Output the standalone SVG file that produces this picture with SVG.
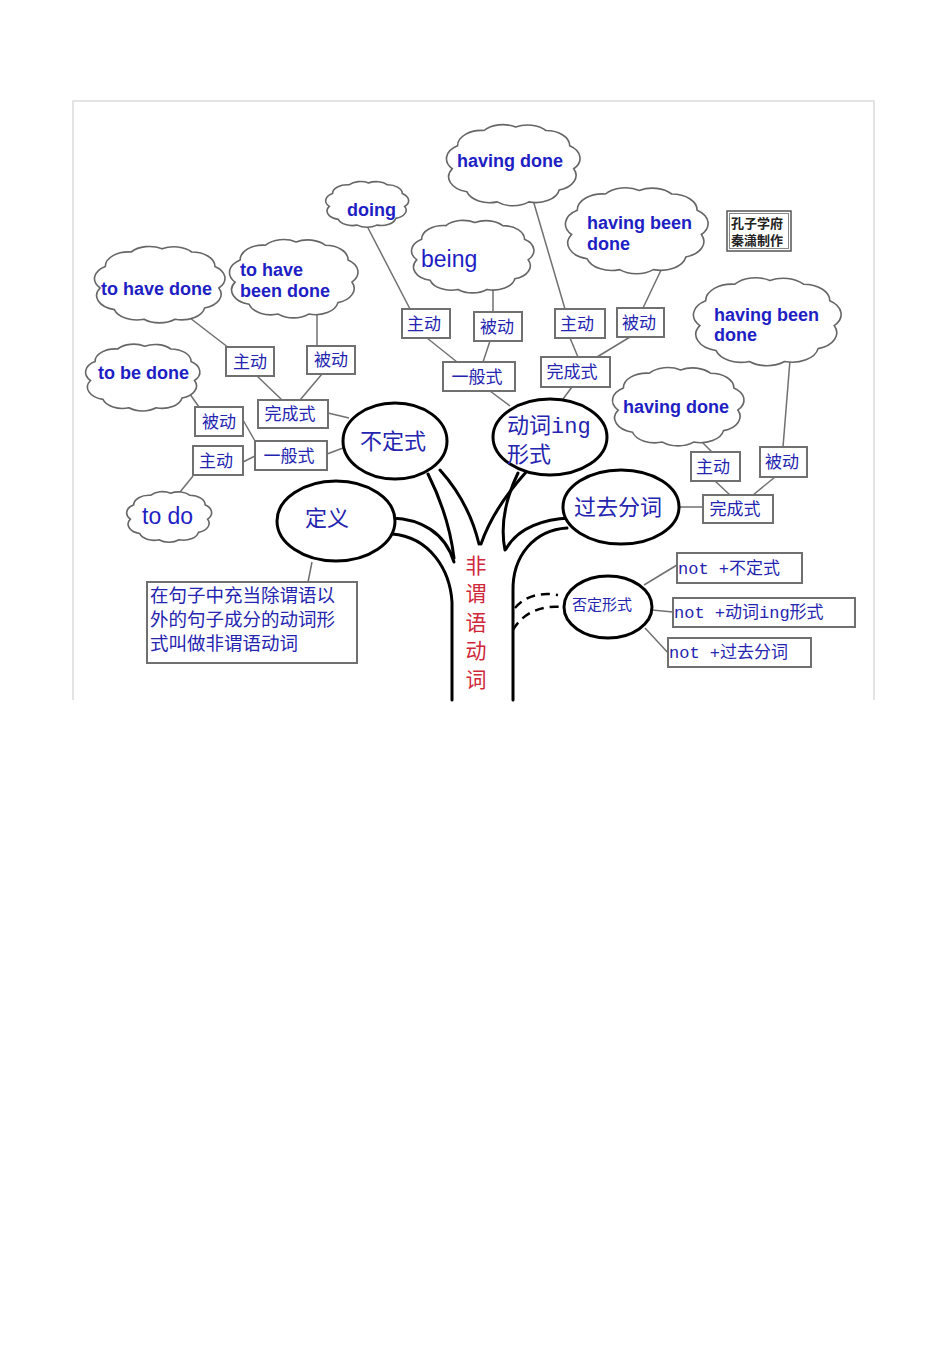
<svg xmlns="http://www.w3.org/2000/svg" xmlns:xlink="http://www.w3.org/1999/xlink" width="950" height="1345" viewBox="0 0 950 1345">
<style>
.cloud{fill:#fff;stroke:#666;stroke-width:1.6}
.en{font-family:"Liberation Sans",Arial,sans-serif;font-weight:bold;font-size:18px;fill:#1e1ec4}
.enl{font-family:"Liberation Sans",Arial,sans-serif;font-size:23px;fill:#1e1ec4}
.box{fill:#fff;stroke:#707070;stroke-width:2}
.bt{font-family:"Noto Sans CJK SC",sans-serif;font-size:17px;fill:#2424b0;text-anchor:middle}
.ell{fill:#fff;stroke:#000;stroke-width:3}
.et{font-family:"Liberation Mono","Noto Sans CJK SC",monospace;font-size:22px;fill:#2424b0}
.nt{font-family:"Liberation Mono","Noto Sans CJK SC",monospace;font-size:17px;fill:#2424b0}
.dt{font-family:"Noto Sans CJK SC",sans-serif;font-size:18.5px;fill:#2424b0}
.ln{stroke:#707070;stroke-width:1.5;fill:none}
.br{stroke:#000;stroke-width:3;fill:none;stroke-linecap:round}
.red{font-family:"Noto Sans CJK SC",sans-serif;font-size:21px;fill:#d0283a;text-anchor:middle}
.cr{font-family:"Noto Sans CJK SC",sans-serif;font-size:13px;font-weight:bold;fill:#222}
</style>
<defs>
<path id="cl" vector-effect="non-scaling-stroke" d="M4,55 A18,18 0 0 1 8,28 A18,18 0 0 1 28,10 A18,18 0 0 1 52,6 A18,18 0 0 1 75,10 A18,18 0 0 1 93,28 A18,18 0 0 1 96,55 A18,18 0 0 1 85,80 A18,18 0 0 1 62,94 A18,18 0 0 1 38,94 A18,18 0 0 1 15,82 A18,18 0 0 1 4,55 Z"/>
</defs>
<rect width="950" height="1345" fill="#fff"/>
<path d="M73,700 V101 H874 V700" fill="none" stroke="#dcdcdc" stroke-width="1.5"/>

<g id="connectors">
<g id="tree">
<path class="br" d="M452,700 V602 C450,570 430,537 392,534"/>
<path class="br" d="M392,518 C420,519 445,532 454,562"/>
<path class="br" d="M428,474 C440,498 450,525 454,558"/>
<path class="br" d="M440,470 C458,490 472,515 479,544"/>
<path class="br" d="M527,471 C508,492 490,518 481,544"/>
<path class="br" d="M518,473 C505,500 500,525 505,550"/>
<path class="br" d="M570,518 C545,519 518,527 506,549"/>
<path class="br" d="M513,700 V592 C512,555 535,530 567,528"/>
<path d="M515,608 C525,596 540,592 558,595" fill="none" stroke="#000" stroke-width="2.5" stroke-dasharray="9,6"/>
<path d="M513,630 C522,614 540,605 561,607" fill="none" stroke="#000" stroke-width="2.5" stroke-dasharray="9,6"/>
</g>
<g id="lines">
<line class="ln" x1="190" y1="318" x2="229" y2="348"/>
<line class="ln" x1="317" y1="313" x2="317" y2="346"/>
<line class="ln" x1="257" y1="376" x2="282" y2="400"/>
<line class="ln" x1="322" y1="374" x2="300" y2="400"/>
<line class="ln" x1="328" y1="413" x2="349" y2="418"/>
<line class="ln" x1="327" y1="454" x2="343" y2="448"/>
<line class="ln" x1="187" y1="390" x2="199" y2="407"/>
<line class="ln" x1="243" y1="420" x2="255" y2="441"/>
<line class="ln" x1="243" y1="462" x2="255" y2="456"/>
<line class="ln" x1="193" y1="476" x2="180" y2="492"/>
<line class="ln" x1="367" y1="226" x2="410" y2="309"/>
<line class="ln" x1="493" y1="290" x2="493" y2="312"/>
<line class="ln" x1="427" y1="338" x2="457" y2="362"/>
<line class="ln" x1="490" y1="341" x2="483" y2="362"/>
<line class="ln" x1="490" y1="391" x2="510" y2="406"/>
<line class="ln" x1="533" y1="200" x2="565" y2="309"/>
<line class="ln" x1="570" y1="338" x2="578" y2="357"/>
<line class="ln" x1="630" y1="337" x2="597" y2="357"/>
<line class="ln" x1="662" y1="268" x2="643" y2="308"/>
<line class="ln" x1="572" y1="387" x2="563" y2="399"/>
<line class="ln" x1="790" y1="360" x2="783" y2="447"/>
<line class="ln" x1="700" y1="440" x2="712" y2="452"/>
<line class="ln" x1="715" y1="481" x2="730" y2="495"/>
<line class="ln" x1="775" y1="477" x2="753" y2="495"/>
<line class="ln" x1="679" y1="507" x2="703" y2="507"/>
<line class="ln" x1="312" y1="562" x2="308" y2="582"/>
<line class="ln" x1="644" y1="585" x2="677" y2="565"/>
<line class="ln" x1="652" y1="610" x2="673" y2="612"/>
<line class="ln" x1="645" y1="628" x2="670" y2="655"/>
</g>
</g>

<g id="cloud-to-have-done"><use href="#cl" class="cloud" transform="translate(95,244) scale(1.29,0.8)"/><text class="en" x="101" y="295">to have done</text></g>
<g id="cloud-to-have-been-done"><use href="#cl" class="cloud" transform="translate(230,237) scale(1.27,0.82)"/><text class="en" x="240" y="276">to have</text><text class="en" x="240" y="297">been done</text></g>
<g id="cloud-doing"><use href="#cl" class="cloud" transform="translate(326,180) scale(0.82,0.48)"/><text class="en" x="347" y="216">doing</text></g>
<g id="cloud-being"><use href="#cl" class="cloud" transform="translate(412,218) scale(1.21,0.76)"/><text class="enl" x="421" y="267">being</text></g>
<g id="cloud-having-done-top"><use href="#cl" class="cloud" transform="translate(447,122) scale(1.32,0.85)"/><text class="en" x="457" y="167">having done</text></g>
<g id="cloud-having-been-done-mid"><use href="#cl" class="cloud" transform="translate(566,185) scale(1.41,0.9)"/><text class="en" x="587" y="229">having been</text><text class="en" x="587" y="250">done</text></g>
<g id="cloud-having-been-done-right"><use href="#cl" class="cloud" transform="translate(694,275) scale(1.46,0.92)"/><text class="en" x="714" y="321">having been</text><text class="en" x="714" y="341">done</text></g>
<g id="cloud-having-done-low"><use href="#cl" class="cloud" transform="translate(613,365) scale(1.3,0.82)"/><text class="en" x="623" y="413">having done</text></g>
<g id="cloud-to-be-done"><use href="#cl" class="cloud" transform="translate(86,342) scale(1.13,0.7)"/><text class="en" x="98" y="379">to be done</text></g>
<g id="cloud-to-do"><use href="#cl" class="cloud" transform="translate(127,490) scale(0.84,0.53)"/><text class="enl" x="142" y="524">to do</text></g>

<g id="box-zd1"><rect class="box" x="226" y="347" width="48" height="29"/><text class="bt" x="250" y="368">主动</text></g>
<g id="box-bd1"><rect class="box" x="307" y="346" width="48" height="28"/><text class="bt" x="331" y="366">被动</text></g>
<g id="box-wcs1"><rect class="box" x="258" y="400" width="70" height="28"/><text class="bt" x="290" y="420">完成式</text></g>
<g id="box-bd2"><rect class="box" x="195" y="407" width="48" height="29"/><text class="bt" x="219" y="428">被动</text></g>
<g id="box-ybs1"><rect class="box" x="255" y="441" width="72" height="29"/><text class="bt" x="289" y="462">一般式</text></g>
<g id="box-zd2"><rect class="box" x="193" y="446" width="50" height="29"/><text class="bt" x="216" y="467">主动</text></g>
<g id="box-zd3"><rect class="box" x="402" y="309" width="48" height="29"/><text class="bt" x="424" y="330">主动</text></g>
<g id="box-bd3"><rect class="box" x="474" y="312" width="48" height="29"/><text class="bt" x="497" y="333">被动</text></g>
<g id="box-ybs2"><rect class="box" x="443" y="362" width="72" height="29"/><text class="bt" x="477" y="383">一般式</text></g>
<g id="box-zd4"><rect class="box" x="555" y="309" width="50" height="29"/><text class="bt" x="577" y="330">主动</text></g>
<g id="box-bd4"><rect class="box" x="617" y="308" width="47" height="29"/><text class="bt" x="639" y="329">被动</text></g>
<g id="box-wcs2"><rect class="box" x="541" y="357" width="69" height="30"/><text class="bt" x="572" y="378">完成式</text></g>
<g id="box-zd5"><rect class="box" x="691" y="452" width="49" height="29"/><text class="bt" x="713" y="473">主动</text></g>
<g id="box-bd5"><rect class="box" x="760" y="447" width="47" height="30"/><text class="bt" x="782" y="468">被动</text></g>
<g id="box-wcs3"><rect class="box" x="703" y="495" width="70" height="28"/><text class="bt" x="735" y="515">完成式</text></g>

<g id="ell-budingshi"><ellipse class="ell" cx="395" cy="441" rx="52" ry="38"/><text class="et" x="360" y="449">不定式</text></g>
<g id="ell-ing"><ellipse class="ell" cx="550" cy="437" rx="57" ry="38"/><text class="et" x="507" y="433">动词ing</text><text class="et" x="507" y="462">形式</text></g>
<g id="ell-guoqu"><ellipse class="ell" cx="621" cy="507" rx="58" ry="37"/><text class="et" x="574" y="515">过去分词</text></g>
<g id="ell-dingyi"><ellipse class="ell" cx="336" cy="521" rx="59" ry="40"/><text class="et" x="305" y="526">定义</text></g>
<g id="ell-fouding"><ellipse class="ell" cx="608" cy="607" rx="44" ry="31"/><text class="et" x="572" y="610" style="font-size:15px">否定形式</text></g>

<g id="box-def"><rect class="box" x="147" y="582" width="210" height="81"/><text class="dt" x="150" y="602">在句子中充当除谓语以</text><text class="dt" x="150" y="626">外的句子成分的动词形</text><text class="dt" x="150" y="650">式叫做非谓语动词</text></g>
<g id="box-not1"><rect class="box" x="677" y="553" width="125" height="30"/><text class="nt" x="678" y="574">not +不定式</text></g>
<g id="box-not2"><rect class="box" x="673" y="598" width="182" height="29"/><text class="nt" x="674" y="618">not +动词ing形式</text></g>
<g id="box-not3"><rect class="box" x="668" y="638" width="143" height="29"/><text class="nt" x="669" y="658">not +过去分词</text></g>

<g id="trunk-label"><text class="red" x="476" y="573">非</text><text class="red" x="476" y="601">谓</text><text class="red" x="476" y="630">语</text><text class="red" x="476" y="658">动</text><text class="red" x="476" y="687">词</text></g>

<g id="credit"><rect x="727" y="211" width="64" height="40" fill="#fff" stroke="#555" stroke-width="1.5"/><rect x="729.5" y="213.5" width="59" height="35" fill="none" stroke="#888" stroke-width="1"/><text class="cr" x="731" y="228">孔子学府</text><text class="cr" x="731" y="245">秦潇制作</text></g>
</svg>
